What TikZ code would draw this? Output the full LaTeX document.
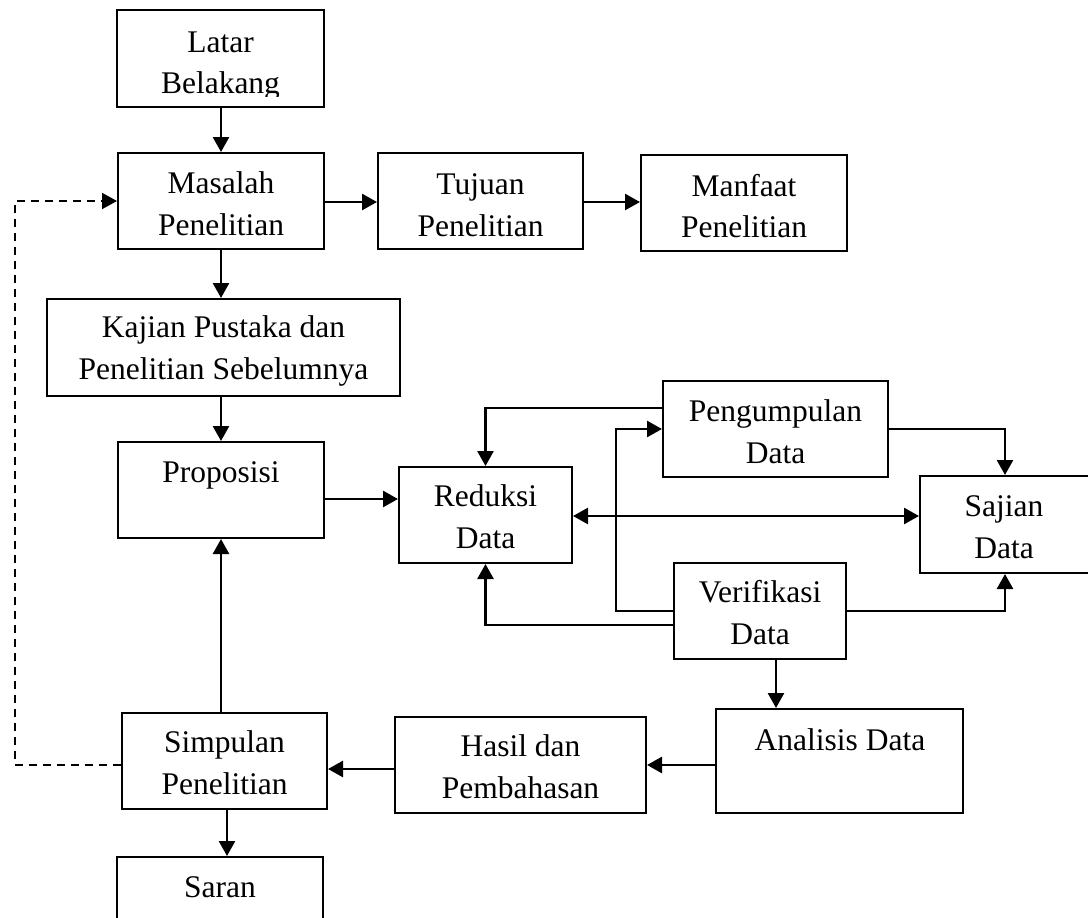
\documentclass[tikz,border=0pt]{standalone}
\usepackage{fontspec}
\setmainfont{Liberation Serif}
\usetikzlibrary{arrows.meta}
\begin{document}
\begin{tikzpicture}[x=1pt,y=-1pt,
  box/.style={draw, line width=2pt, rectangle, inner sep=0pt},
  txt/.style={align=center, inner sep=0pt, anchor=base, font=\fontsize{31.5}{41.5}\selectfont},
  tip/.tip={Triangle[length=15pt,width=16pt]},
  conn/.style={line width=2.6pt, -tip},
  dconn/.style={line width=2.6pt, tip-tip},
  dashline/.style={line width=2pt, dash pattern=on 8pt off 6pt, -tip}]
\clip (0,0) rectangle (1088,918);
\fill[white] (0,0) rectangle (1088,918);
% boxes
\node[box, minimum width=207pt, minimum height=97pt] (lb) at (220.5,58.5) {};
\node[box, minimum width=206pt, minimum height=96pt] (mp) at (221,201) {};
\node[box, minimum width=205pt, minimum height=96pt] (tp) at (480.5,201) {};
\node[box, minimum width=206pt, minimum height=96pt] (mf) at (744,203) {};
\node[box, minimum width=353pt, minimum height=97pt] (kp) at (223.5,347.5) {};
\node[box, minimum width=206pt, minimum height=96pt] (pr) at (221,490) {};
\node[box, minimum width=173pt, minimum height=96pt] (rd) at (485.5,515) {};
\node[box, minimum width=225pt, minimum height=96pt] (pg) at (775.5,429) {};
\node[box, minimum width=170pt, minimum height=97pt] (sj) at (1005,524.5) {};
\node[box, minimum width=172pt, minimum height=96pt] (vf) at (760,611) {};
\node[box, minimum width=247pt, minimum height=104pt] (an) at (839.5,761) {};
\node[box, minimum width=251pt, minimum height=96pt] (hs) at (520.5,765) {};
\node[box, minimum width=205pt, minimum height=96pt] (sp) at (224.5,761) {};
\node[box, minimum width=206pt, minimum height=103pt] (sr) at (220,908.5) {};
% texts (anchor = baseline of last line)
\begin{scope}
\clip (110,0) rectangle (330,96);
\node[txt] (tlb) at (220.5,93.5) {Latar\\Belakang};
\end{scope}
\node[txt] (tmp) at (221,235) {Masalah\\Penelitian};
\node[txt] (ttp) at (480.5,236) {Tujuan\\Penelitian};
\node[txt] (tmf) at (744,237.5) {Manfaat\\Penelitian};
\node[txt] (tkp) at (223.5,379) {Kajian Pustaka dan\\Penelitian Sebelumnya};
\node[txt] (tpr) at (221,482) {Proposisi};
\node[txt] (trd) at (485.5,548) {Reduksi\\Data};
\node[txt] (tpg) at (775.5,463) {Pengumpulan\\Data};
\node[txt] (tsj) at (1004,558) {Sajian\\Data};
\node[txt] (tvf) at (760,644) {Verifikasi\\Data};
\node[txt] (tan) at (840,750) {Analisis Data};
\node[txt] (ths) at (520.5,798) {Hasil dan\\Pembahasan};
\node[txt] (tsp) at (224.5,794) {Simpulan\\Penelitian};
\node[txt] (tsr) at (220,897) {Saran};
% helper coordinates
\coordinate (j1) at (616,0);
\coordinate (jd) at (15,0);
% connectors
\draw[conn] (pr.north |- lb.south) -- (pr.north |- mp.north);
\draw[conn] ([yshift=-1pt]mp.east) -- ([yshift=-1pt]mp.east -| tp.west);
\draw[conn] ([yshift=-1pt]tp.east) -- ([yshift=-1pt]tp.east -| mf.west);
\draw[conn] (pr.north |- mp.south) -- (pr.north |- kp.north);
\draw[conn] (pr.north |- kp.south) -- (pr.north);
\draw[conn] ([yshift=-9pt]pr.east) -- ([yshift=-9pt]pr.east -| rd.west);
\draw[conn] (pr.south |- sp.north) -- (pr.south);
\draw[conn] ([xshift=2.5pt]sp.south) -- ([xshift=2.5pt]sp.south |- sr.north);
\draw[conn] ([yshift=-4pt]hs.west) -- ([yshift=-4pt]hs.west -| sp.east);
\draw[conn] ([yshift=-4pt]an.west) -- ([yshift=-4pt]an.west -| hs.east);
\draw[conn] ([xshift=16pt]vf.south) -- ([xshift=16pt]vf.south |- an.north);
\draw[dashline] ([yshift=-4pt]sp.west) -- ([yshift=-4pt]sp.west -| jd) |- (mp.west);
\draw[conn] ([yshift=21pt]pg.west) -| (rd.north);
\draw[conn] (vf.west) -- (vf.west -| j1) |- (pg.west);
\draw[conn] (pg.east) -| (sj.north);
\draw[dconn] ([yshift=-1pt]rd.east) -- ([yshift=-1pt]rd.east -| sj.west);
\draw[conn] (vf.east) -| (sj.south);
\draw[conn] ([yshift=-14pt]vf.west) -| (rd.south);
\end{tikzpicture}
\end{document}
